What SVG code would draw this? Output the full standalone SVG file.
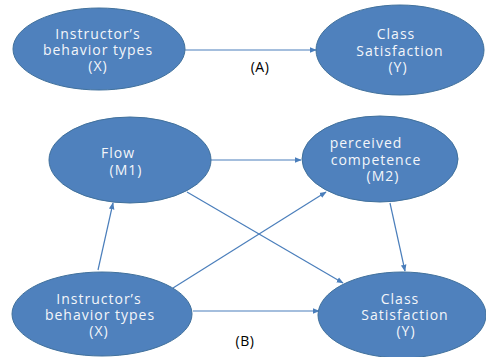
<svg xmlns="http://www.w3.org/2000/svg" width="486" height="357" viewBox="0 0 486 357">
<defs>
<style>
.node ellipse{fill:#4f81bd;stroke:#41719c;stroke-width:1}
.node text{fill:#f4f6fa;font-family:"Open Sans","Noto Sans",sans-serif;font-size:14px;letter-spacing:1px;text-anchor:middle}
.conn line{stroke:#4a7ebb;stroke-width:1.2;fill:none;marker-end:url(#ah)}
.lbl{fill:#000;font-family:"Open Sans","Noto Sans",sans-serif;font-size:14px;letter-spacing:0.5px;text-anchor:middle}
</style>
<marker id="ah" viewBox="0 0 10 10" refX="9" refY="5" markerWidth="7" markerHeight="7" orient="auto" markerUnits="userSpaceOnUse">
<path d="M0,1 L10,5 L0,9 z" fill="#4a7ebb"/>
</marker>
</defs>
<rect width="486" height="357" fill="#ffffff"/>
<g id="connectors" class="conn">
<line x1="185" y1="50" x2="316" y2="50"/>
<line x1="211" y1="160" x2="301" y2="160"/>
<line x1="187" y1="192" x2="343" y2="283"/>
<line x1="98" y1="270" x2="113" y2="203"/>
<line x1="173" y1="288" x2="326" y2="192"/>
<line x1="390" y1="203" x2="405" y2="271"/>
<line x1="193" y1="311" x2="319" y2="311"/>
</g>
<g id="nodeX1" class="node">
<ellipse cx="99" cy="49" rx="86" ry="41"/>
<text x="98" y="39">Instructor’s</text>
<text x="98" y="55">behavior types</text>
<text x="98" y="71">(X)</text>
</g>
<g id="nodeY1" class="node">
<ellipse cx="400" cy="50" rx="84" ry="45"/>
<text x="396" y="39">Class</text>
<text x="400" y="56">Satisfaction</text>
<text x="398" y="72">(Y)</text>
</g>
<g id="nodeM1" class="node">
<ellipse cx="130" cy="160" rx="81" ry="43"/>
<text x="118" y="158">Flow</text>
<text x="126" y="175">(M1)</text>
</g>
<g id="nodeM2" class="node">
<ellipse cx="380" cy="159" rx="78" ry="43"/>
<text x="366" y="148">perceived</text>
<text x="376" y="165">competence</text>
<text x="383" y="181">(M2)</text>
</g>
<g id="nodeX2" class="node">
<ellipse cx="102" cy="314" rx="90" ry="42"/>
<text x="99" y="304">Instructor’s</text>
<text x="100" y="320">behavior types</text>
<text x="99" y="336">(X)</text>
</g>
<g id="nodeY2" class="node">
<ellipse cx="402" cy="315" rx="84" ry="43"/>
<text x="400" y="304">Class</text>
<text x="405" y="320">Satisfaction</text>
<text x="406" y="336">(Y)</text>
</g>
<text class="lbl" x="260" y="72">(A)</text>
<text class="lbl" x="245" y="346">(B)</text>
</svg>
